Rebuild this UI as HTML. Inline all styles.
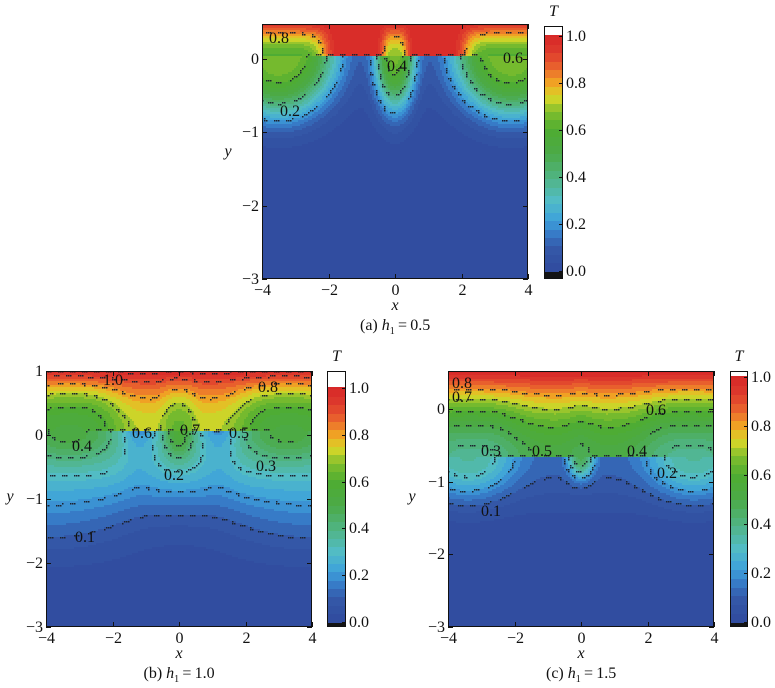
<!DOCTYPE html>
<html><head><meta charset="utf-8"><style>
body{margin:0;background:#fff;width:775px;height:687px;position:relative;overflow:hidden;font-family:"Liberation Serif","DejaVu Serif",serif;color:#111}
svg{position:absolute;left:0;top:0}
.t{position:absolute;font-family:"Liberation Serif","DejaVu Serif",serif;font-size:16px;line-height:16px;white-space:nowrap}
.i{font-style:italic}
</style></head><body>
<svg id="s" width="775" height="687" xmlns="http://www.w3.org/2000/svg" shape-rendering="crispEdges"></svg>
<div id="Ld"></div>
<script>
var stops=[[0,[48,74,158]],[0.1,[52,88,168]],[0.17,[56,128,204]],[0.22,[62,162,218]],[0.3,[82,188,198]],[0.4,[80,180,130]],[0.5,[75,170,72]],[0.6,[78,172,50]],[0.68,[130,190,45]],[0.74,[215,215,40]],[0.8,[240,165,35]],[0.86,[235,105,45]],[0.93,[222,60,45]],[1.0,[215,40,40]]];
function cmap(v){if(v<0)return[20,20,20];if(v>1.005)return[255,255,255];
 for(var i=1;i<stops.length;i++){if(v<=stops[i][0]){var a=stops[i-1],b=stops[i],t=(v-a[0])/(b[0]-a[0]);return [0,1,2].map(function(k){return Math.round(a[1][k]+(b[1][k]-a[1][k])*t);});}}return stops[stops.length-1][1];}
function sg(d,s,p){return Math.exp(-Math.pow(Math.abs(d)/s,p));}
function blob(x,y,cx,cy,a,sx,sy,p){var r=Math.sqrt(Math.pow((x-cx)/sx,2)+Math.pow((y-cy)/sy,2));return a*Math.exp(-Math.pow(r,p||2.5));}
function fA(x,y){var yi=0.05;if(y>yi){var D=0.4*(sg(x+3.5,1.45,6)+sg(x-3.5,1.45,6))+0.32*sg(x,0.4,3);var r=Math.max(0,(0.5-y)/(0.5-yi));return 1-D*(1-Math.pow(1-r,1.5));}
 var dy=yi-y;return blob(x,y,-3.5,yi,0.62,1.75,0.85,3)+blob(x,y,3.5,yi,0.62,1.75,0.85,3)+blob(x,y,0,yi,0.6,0.62,0.75,2.5)+0.06*Math.exp(-dy/0.8);}
function fB(x,y){var yi=0.05;if(y>yi){var D=0.27+0.2*(sg(x+3.3,1.5,3)+sg(x-3.3,1.5,3))+0.1*sg(x,0.5,2.5);var r=Math.max(0,(1-y)/(1-yi));return 1-D*(1-Math.pow(1-r,2));}
 var dy=yi-y;function g(d,s){return Math.exp(-(d*d)/(s*s));}
 return 0.38*Math.exp(-Math.pow(dy/1.3,2))*(1-0.5*(g(x+1.2,0.6)+g(x-1.2,0.6))*Math.exp(-dy/0.6))+blob(x,y,-3.3,yi,0.15,1.2,0.45,2)+blob(x,y,3.3,yi,0.15,1.2,0.45,2)+blob(x,y,0,yi,0.2,0.4,0.4,2)-0.035*Math.cos(x*0.8)*Math.exp(-Math.pow((dy-1.4)/0.6,2));}
function fC(x,y){var yi=-0.65;if(y>yi){var D=0.48+0.14*(sg(x+3.3,1.5,3)+sg(x-3.3,1.5,3))+0.04*sg(x,0.4,2);var r=Math.max(0,(0.5-y)/(0.5-yi));return 1-D*(1-Math.pow(1-r,1.6));}
 var dy=yi-y;return blob(x,y,-3.4,yi,0.24,1.4,0.6)+blob(x,y,3.4,yi,0.24,1.4,0.6)+blob(x,y,0,yi,0.35,0.4,0.3)+0.12*Math.exp(-Math.pow(dy/0.7,2));}
var out=[];
function rect(x,y,w,h,c){out.push('<rect x="'+x+'" y="'+y+'" width="'+w+'" height="'+h+'" fill="'+c+'"/>');}
function line(x1,y1,x2,y2){out.push('<line x1="'+x1+'" y1="'+y1+'" x2="'+x2+'" y2="'+y2+'" stroke="#111" stroke-width="1"/>');}
function q(v){return Math.min(0.999,(Math.floor(v*28)+0.5)/28);}
function plot(P){var S=2,w=P.x1-P.x0,h=P.y1-P.y0,nx=Math.ceil(w/S),ny=Math.ceil(h/S),T=[],i,j;
 for(j=0;j<=ny;j++){T[j]=[];for(i=0;i<=nx;i++){var x=P.xa+(i*S+1)/w*(P.xb-P.xa),y=P.yb-(j*S+1)/h*(P.yb-P.ya);T[j][i]=P.f(x,y);}}
 var dots=[];
 for(j=0;j<ny;j++){var run=0,rc=null;
  for(i=0;i<nx;i++){var c='rgb('+cmap(q(T[j][i])).join(',')+')';
   if(c!==rc){if(rc)rect(P.x0+run*S,P.y0+j*S,(i-run)*S,Math.min(S,h-j*S),rc);rc=c;run=i;}
   if(((i+j)%6)<3){for(var k=0;k<P.lv.length;k++){var L=P.lv[k],a=T[j][i]-L,b=T[j][i+1]-L,d=T[j+1][i]-L;if(a*b<0||a*d<0){dots.push([i,j]);break;}}}}
  rect(P.x0+run*S,P.y0+j*S,Math.min((nx-run)*S,w-run*S),Math.min(S,h-j*S),rc);}
 dots.forEach(function(p){rect(P.x0+p[0]*S,P.y0+p[1]*S,1.3,1.3,'#1d2430');});
 out.push('<rect x="'+(P.x0+0.5)+'" y="'+(P.y0+0.5)+'" width="'+(w-1)+'" height="'+(h-1)+'" fill="none" stroke="#111"/>');
 [-4,-2,0,2,4].forEach(function(t){var px=Math.round(P.x0+(t-P.xa)/(P.xb-P.xa)*w)+0.5;line(px,P.y1,px,P.y1-5);line(px,P.y0,px,P.y0+5);addT((t<0?'−':'')+Math.abs(t),px,P.y1+12,'c');});
 P.yt.forEach(function(t){var py=Math.round(P.y1-(t-P.ya)/(P.yb-P.ya)*h)+0.5;line(P.x0,py,P.x0+5,py);line(P.x1,py,P.x1-5,py);addT((t<0?'−':'')+Math.abs(t),P.x0-3,py,'r');});
 var cb=P.cb;for(j=cb.y0;j<cb.y1;j++){var v=(cb.z-j)/cb.s;var vq=(v<0||v>1.005)?v:q(v);rect(cb.x0,j,cb.x1-cb.x0,1,'rgb('+cmap(vq).join(',')+')');}
 out.push('<rect x="'+(cb.x0+0.5)+'" y="'+(cb.y0+0.5)+'" width="'+(cb.x1-cb.x0-1)+'" height="'+(cb.y1-cb.y0-1)+'" fill="none" stroke="#111"/>');
 [0,0.2,0.4,0.6,0.8,1.0].forEach(function(v){var py=Math.round(cb.z-v*cb.s)+0.5;line(cb.x1-4,py,cb.x1,py);addT(v.toFixed(1),cb.x1+3,py,'l');});
 addT('T',(cb.x0+cb.x1)/2,cb.y0-14,'c',true);
}
var labs=[];
function addT(s,x,y,al,it,html){labs.push([s,x,y,al,it,html]);}
plot({x0:262,x1:528,y0:24,y1:279,xa:-4,xb:4,ya:-3,yb:0.48,f:fA,lv:[0.2,0.4,0.6,0.8],yt:[0,-1,-2,-3],cb:{x0:544,x1:563,y0:26,y1:279,z:271,s:235}});
plot({x0:46,x1:312,y0:371,y1:627,xa:-4,xb:4,ya:-3,yb:1,f:fB,lv:[0.1,0.2,0.3,0.4,0.5,0.6,0.7,0.8,0.9,0.97],yt:[1,0,-1,-2,-3],cb:{x0:327,x1:346,y0:371,y1:627,z:622,s:234}});
plot({x0:448,x1:714,y0:371,y1:627,xa:-4,xb:4,ya:-3,yb:0.52,f:fC,lv:[0.1,0.2,0.3,0.4,0.5,0.6,0.7,0.8],yt:[0,-1,-2,-3],cb:{x0:730,x1:748,y0:371,y1:627,z:622,s:245}});
document.getElementById('s').innerHTML=out.join('');
addT('x',395,306,'c',true);addT('y',228,152,'c',true);
addT('(a) <i>h</i><sub style="font-size:10px">1</sub>&#8201;=&#8201;0.5',395,326,'c',false,true);
addT('x',179,654,'c',true);addT('y',10,497,'c',true);
addT('(b) <i>h</i><sub style="font-size:10px">1</sub>&#8201;=&#8201;1.0',179,674,'c',false,true);
addT('x',581,654,'c',true);addT('y',412,497,'c',true);
addT('(c) <i>h</i><sub style="font-size:10px">1</sub>&#8201;=&#8201;1.5',581,674,'c',false,true);
[['0.8',279,39],['0.6',513,59],['0.4',397,67],['0.2',290,112],
 ['1.0',113,381],['0.8',268,388],['0.6',142,434],['0.7',190,431],['0.5',239,434],['0.4',82,447],['0.3',266,467],['0.2',174,476],['0.1',85,538],
 ['0.8',462,384],['0.7',462,398],['0.6',656,411],['0.3',491,452],['0.5',542,452],['0.4',637,452],['0.2',667,474],['0.1',491,512]
].forEach(function(a){addT(a[0],a[1],a[2],'c');});
var Ld=document.getElementById('Ld');
labs.forEach(function(a){var d=document.createElement('div');d.className='t'+(a[4]?' i':'');if(a[5])d.innerHTML=a[0];else d.textContent=a[0];Ld.appendChild(d);
 var wd=d.offsetWidth||a[0].length*8;var l=a[3]=='c'?a[1]-wd/2:a[3]=='r'?a[1]-wd:a[1];d.style.left=l+'px';d.style.top=(a[2]-8)+'px';});
</script>
</body></html>
